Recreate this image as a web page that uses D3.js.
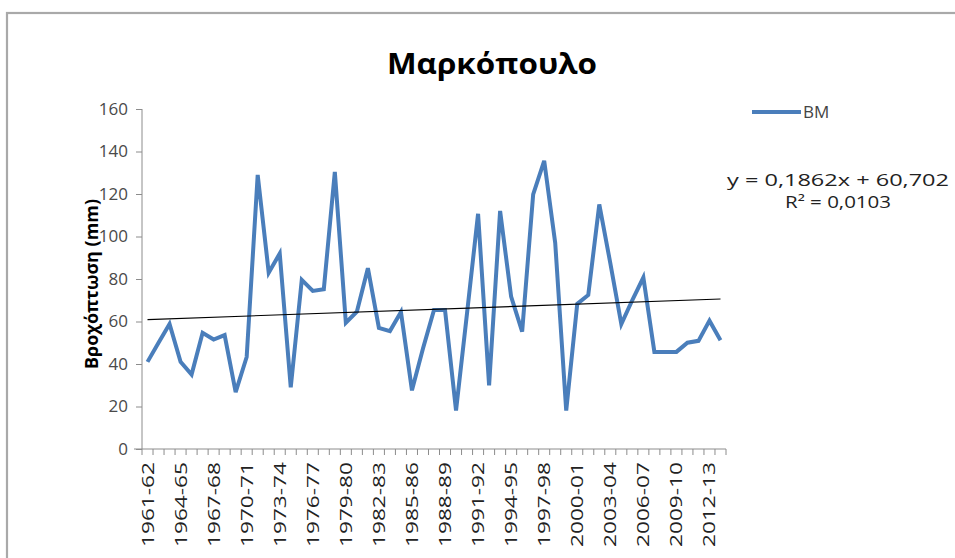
<!DOCTYPE html>
<html>
<head>
<meta charset="utf-8">
<script src="https://cdn.jsdelivr.net/npm/d3@7/dist/d3.min.js"></script>
<style>
  html, body { margin: 0; padding: 0; background: #fff; }
  svg { display: block; }
  text { font-family: "Open Sans", "Noto Sans", sans-serif; }
</style>
</head>
<body>
<svg id="chart" width="955" height="558"></svg>
<script>
const title = "Μαρκόπουλο";
const yAxisTitle = "Βροχόπτωση (mm)";
const seriesName = "BM";
const categories = [
  "1961-62","1962-63","1963-64","1964-65","1965-66","1966-67","1967-68","1968-69","1969-70",
  "1970-71","1971-72","1972-73","1973-74","1974-75","1975-76","1976-77","1977-78","1978-79",
  "1979-80","1980-81","1981-82","1982-83","1983-84","1984-85","1985-86","1986-87","1987-88",
  "1988-89","1989-90","1990-91","1991-92","1992-93","1993-94","1994-95","1995-96","1996-97",
  "1997-98","1998-99","1999-00","2000-01","2001-02","2002-03","2003-04","2004-05","2005-06",
  "2006-07","2007-08","2008-09","2009-10","2010-11","2011-12","2012-13","2013-14"
];
const values = [
  41, 50, 58.8, 41, 35, 54.7, 51.5, 53.6, 26.8,
  43.3, 129, 83, 92, 29, 79.6, 74.4, 75.2, 130.4,
  59.4, 64.6, 85.1, 57, 55.5, 64.5, 27.6, 47.3, 65.4,
  65.4, 18.1, 64, 110.7, 30, 112, 71.7, 55.2, 119.8,
  135.6, 97, 18.1, 68.3, 72.5, 115.1, 87.5, 58.8, 70.1,
  80.7, 45.7, 45.7, 45.7, 50, 50.9, 60.4, 51.2
];
const yTicks = [0, 20, 40, 60, 80, 100, 120, 140, 160];
const trendSlope = 0.1862;
const trendIntercept = 60.702;
const trendLabel = "y = 0,1862x + 60,702";
const r2Label = "R² = 0,0103";

const svg = d3.select("#chart");
const L = 142, R = 726, T = 109, B = 449;

// chart frame
svg.append("rect").attr("x", 7).attr("y", 13).attr("width", 1000).attr("height", 600)
  .attr("fill", "#fff").attr("stroke", "#a9a9a9").attr("stroke-width", 2.2);

const x = d3.scaleBand().domain(categories).range([L, R]).padding(0);
const y = d3.scaleLinear().domain([0, 160]).range([B, T]);
const cx = d => x(d) + x.bandwidth() / 2;

// title
svg.append("text").attr("x", 492).attr("y", 74).attr("text-anchor", "middle")
  .attr("font-size", 29).attr("font-weight", "bold").attr("fill", "#000")
  .attr("textLength", 210).attr("lengthAdjust", "spacingAndGlyphs").text(title);

// y axis
const yAxis = d3.axisLeft(y).tickValues(yTicks).tickSize(6).tickPadding(8);
const gy = svg.append("g").attr("transform", `translate(${L},0)`).call(yAxis);
gy.select(".domain").attr("stroke", "#8c8c8c").attr("d", `M0,${T}V${B}`);
gy.selectAll(".tick line").attr("stroke", "#8c8c8c");
gy.selectAll(".tick text").attr("font-size", 17).attr("fill", "#4a4a4a")
  .attr("font-family", "'Open Sans', sans-serif");

// x axis
const gx = svg.append("g").attr("transform", `translate(0,${B})`);
gx.append("line").attr("x1", L - 8).attr("x2", R).attr("y1", 0).attr("y2", 0).attr("stroke", "#8c8c8c");
const edges = categories.map(c => x(c)).concat([x(categories[categories.length - 1]) + x.bandwidth()]);
gx.selectAll("line.tk").data(edges).enter().append("line").attr("class", "tk")
  .attr("x1", d => d).attr("x2", d => d).attr("y1", 0).attr("y2", 6).attr("stroke", "#8c8c8c");
gx.selectAll("text.xl").data(categories.filter((c, i) => i % 3 === 0)).enter().append("text")
  .attr("class", "xl")
  .attr("transform", d => `translate(${cx(d) + 6},${13}) rotate(-90)`)
  .attr("text-anchor", "end").attr("font-size", 17).attr("fill", "#222")
  .attr("textLength", 85).attr("lengthAdjust", "spacingAndGlyphs")
  .text(d => d);

// y axis title
svg.append("text").attr("transform", `translate(98,284) rotate(-90)`).attr("text-anchor", "middle")
  .attr("font-size", 18).attr("font-weight", "bold").attr("fill", "#000")
  .attr("textLength", 170).attr("lengthAdjust", "spacingAndGlyphs").text(yAxisTitle);

// series line
const line = d3.line().x((d, i) => cx(categories[i])).y(d => y(d));
svg.append("path").datum(values).attr("d", line).attr("fill", "none")
  .attr("stroke", "#4a7ebb").attr("stroke-width", 4).attr("stroke-linejoin", "miter");

// trend line
const first = 1, last = categories.length;
svg.append("line")
  .attr("x1", cx(categories[0])).attr("y1", y(trendSlope * first + trendIntercept))
  .attr("x2", cx(categories[last - 1])).attr("y2", y(trendSlope * last + trendIntercept))
  .attr("stroke", "#000").attr("stroke-width", 1.1);

// legend
svg.append("line").attr("x1", 752).attr("x2", 801).attr("y1", 112).attr("y2", 112)
  .attr("stroke", "#4a7ebb").attr("stroke-width", 4);
svg.append("text").attr("x", 803).attr("y", 118).attr("font-size", 17).attr("fill", "#444").text(seriesName);

// trend equation
svg.append("text").attr("x", 838).attr("y", 186).attr("text-anchor", "middle")
  .attr("font-size", 16).attr("fill", "#222")
  .attr("textLength", 222).attr("lengthAdjust", "spacingAndGlyphs").text(trendLabel);
svg.append("text").attr("x", 838).attr("y", 208).attr("text-anchor", "middle")
  .attr("font-size", 16).attr("fill", "#222")
  .attr("textLength", 106).attr("lengthAdjust", "spacingAndGlyphs").text(r2Label);
</script>
</body>
</html>
